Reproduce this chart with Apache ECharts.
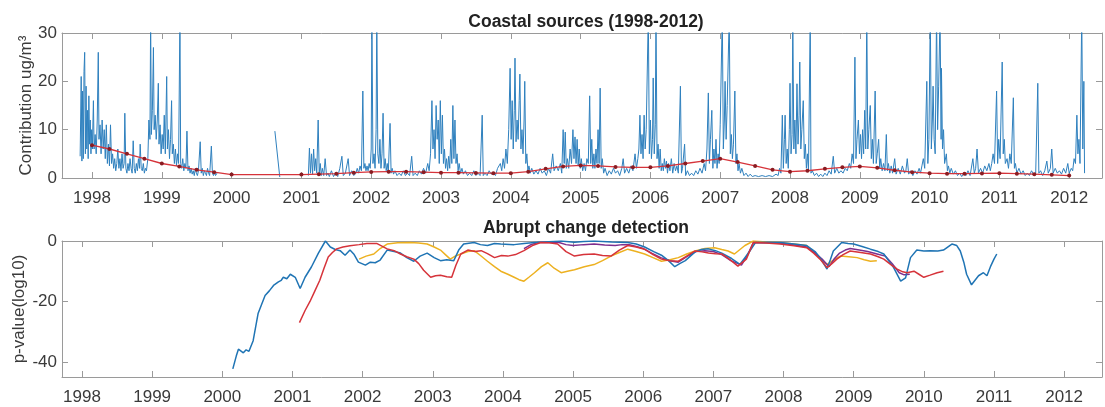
<!DOCTYPE html>
<html>
<head>
<meta charset="utf-8">
<script src="https://cdn.jsdelivr.net/npm/echarts@6/dist/echarts.min.js"></script>
<style>html,body{margin:0;padding:0;background:#fff}#c{width:1105px;height:407px}</style>
</head>
<body>
<div id="c"></div>
<script>
const yearTicks = [1998,1999,2000,2001,2002,2003,2004,2005,2006,2007,2008,2009,2010,2011,2012];
const topYTicks = [0,10,20,30];
const bottomYTicks = [-40,-20,0];

// Coastal source contribution (ug/m3), [decimal year, value]; null = missing
const coastal = [
[1997.83,4.5],[1997.845,21],[1997.855,3.5],[1997.865,18],[1997.875,4],[1997.885,22],[1997.895,26],[1997.905,5],[1997.915,19],[1997.925,6],[1997.935,14],[1997.945,4],[1997.955,17],[1997.965,7],[1997.975,12],[1997.985,5],[1997.995,10],[1998.005,6],[1998.02,16],[1998.03,6],[1998.045,9],[1998.06,5],[1998.075,12],[1998.09,26],[1998.10,8],[1998.115,11],[1998.13,5],[1998.145,12],[1998.16,6],[1998.175,10],[1998.19,4],[1998.205,11],[1998.22,3],[1998.235,7],[1998.25,2.5],[1998.265,11],[1998.28,3],[1998.295,5],[1998.31,2],[1998.325,4],[1998.34,1.5],[1998.355,3],[1998.37,6],[1998.385,2],[1998.40,4],[1998.415,1.5],[1998.43,5],[1998.445,2],[1998.46,3],[1998.47,13.4],[1998.485,2],[1998.50,1],[1998.515,3],[1998.53,1.5],[1998.545,4],[1998.56,2],[1998.575,1],[1998.59,7.7],[1998.605,2],[1998.62,1],[1998.635,3],[1998.65,1.5],[1998.665,4],[1998.68,2],[1998.69,7],[1998.705,2],[1998.72,1.5],[1998.735,3],[1998.75,1],[1998.765,2],[1998.78,1.5],[1998.80,4],[1998.815,12],[1998.83,8],[1998.84,34],[1998.85,9],[1998.865,14],[1998.88,27],[1998.89,10],[1998.905,13],[1998.92,8],[1998.935,12],[1998.95,19.6],[1998.96,7],[1998.975,11],[1998.99,5],[1999.005,9],[1999.02,6],[1999.035,13],[1999.05,5],[1999.07,21],[1999.08,6],[1999.095,10],[1999.11,4],[1999.125,8],[1999.14,16],[1999.15,5],[1999.165,7],[1999.18,3],[1999.195,6],[1999.21,2.5],[1999.225,5],[1999.24,3],[1999.26,34],[1999.27,3],[1999.285,2],[1999.30,4],[1999.315,1.5],[1999.33,3],[1999.345,2],[1999.36,9.7],[1999.375,1.5],[1999.39,2.5],[1999.405,1],[1999.42,2],[1999.435,0.8],[1999.45,1.5],[1999.465,0.5],[1999.48,2],[1999.495,1],[1999.51,0.5],[1999.525,1.5],[1999.55,7.5],[1999.565,1],[1999.58,2],[1999.595,0.5],[1999.61,1.5],[1999.625,1],[1999.64,0.5],[1999.655,2],[1999.67,1],[1999.685,0.5],[1999.71,6.6],[1999.725,1],[1999.74,0.5],[1999.755,1.2],[1999.77,0.5],[1999.79,1],
[1999.8,null],
[2000.62,9.7],[2000.69,0.2],
[2000.7,null],
[2001.10,0.5],[2001.115,6.2],[2001.13,1],[2001.145,5],[2001.16,0.8],[2001.175,6],[2001.19,1.5],[2001.205,4],[2001.22,1],[2001.24,12],[2001.255,1],[2001.27,3],[2001.285,0.5],[2001.30,2],[2001.32,0.5],[2001.34,4],[2001.36,0.5],[2001.38,1],[2001.40,0.3],[2001.43,1.5],[2001.46,0.3],[2001.49,1],[2001.52,0.3],[2001.55,2],[2001.58,4.5],[2001.60,0.5],[2001.63,1],[2001.67,4],[2001.69,0.5],[2001.72,1.5],[2001.75,0.5],[2001.78,1],[2001.80,2],[2001.82,1],[2001.84,2.5],[2001.86,1.5],[2001.88,18],[2001.895,2],[2001.91,3],[2001.925,1.5],[2001.94,2.5],[2001.955,1.5],[2001.97,3],[2001.985,2],[2002.00,6],[2002.01,34],[2002.025,3],[2002.04,5],[2002.055,2],[2002.07,10],[2002.08,34],[2002.095,5],[2002.11,3],[2002.125,8],[2002.14,2],[2002.155,5],[2002.17,13.4],[2002.185,2],[2002.20,4],[2002.215,1.5],[2002.23,3],[2002.245,1],[2002.27,11.3],[2002.285,1],[2002.30,2],[2002.32,0.8],[2002.34,1.5],[2002.37,0.5],[2002.40,1],[2002.43,0.5],[2002.46,1.5],[2002.49,0.5],[2002.52,1],[2002.55,0.5],[2002.58,4.5],[2002.60,0.5],[2002.63,1],[2002.66,0.5],[2002.69,1.5],[2002.72,0.8],[2002.75,2],[2002.78,1],[2002.81,3],[2002.83,1.5],[2002.85,5],[2002.87,16],[2002.885,6],[2002.90,10],[2002.915,4],[2002.93,15],[2002.945,8],[2002.96,12],[2002.975,3],[2002.99,16],[2003.005,5],[2003.02,13],[2003.035,3],[2003.05,6],[2003.065,2],[2003.08,4],[2003.095,1.5],[2003.11,4.5],[2003.125,2],[2003.14,8],[2003.155,3],[2003.17,15],[2003.185,4],[2003.20,12],[2003.215,3],[2003.23,5],[2003.245,1.5],[2003.26,3],[2003.28,1],[2003.30,2],[2003.32,0.8],[2003.35,1.5],[2003.38,0.5],[2003.41,1],[2003.44,0.5],[2003.47,1.5],[2003.50,0.5],[2003.53,1],[2003.56,0.5],[2003.59,13],[2003.605,0.5],[2003.63,1],[2003.66,0.5],[2003.69,1.5],[2003.72,0.8],[2003.75,1],[2003.78,0.5],[2003.81,2],[2003.85,3],[2003.87,1.5],[2003.89,4],[2003.91,2],[2003.93,6],[2003.95,3],[2003.97,10],[2003.99,22.7],[2004.005,8],[2004.02,16],[2004.035,6],[2004.05,14],[2004.06,24.8],[2004.075,7.5],[2004.09,12],[2004.105,8],[2004.12,16],[2004.13,21.5],[2004.145,6],[2004.16,10],[2004.175,5],[2004.19,12],[2004.20,20],[2004.215,3],[2004.23,5],[2004.245,1.5],[2004.26,2.5],[2004.28,1],[2004.30,2],[2004.33,0.8],[2004.36,1.5],[2004.39,0.8],[2004.42,2],[2004.45,1],[2004.48,1.5],[2004.51,0.5],[2004.54,2],[2004.57,1],[2004.60,5],[2004.62,1.5],[2004.65,2.5],[2004.68,1.5],[2004.71,3],[2004.73,1],[2004.75,10],[2004.765,3],[2004.78,9.5],[2004.795,2],[2004.81,4],[2004.83,2],[2004.85,6],[2004.87,3],[2004.89,10],[2004.905,4],[2004.92,8.5],[2004.935,3],[2004.95,8],[2004.965,2.5],[2004.98,6],[2004.995,2],[2005.01,4],[2005.03,1.5],[2005.05,3],[2005.07,1.5],[2005.09,4],[2005.11,3],[2005.13,17],[2005.145,3],[2005.16,8],[2005.175,2],[2005.19,5],[2005.205,2],[2005.22,6],[2005.235,3],[2005.25,10],[2005.265,3],[2005.28,18.6],[2005.295,2],[2005.31,4],[2005.33,1],[2005.35,2],[2005.38,0.5],[2005.41,1.5],[2005.44,0.8],[2005.47,2],[2005.50,1],[2005.53,1.5],[2005.56,0.5],[2005.59,2],[2005.61,4],[2005.63,1],[2005.66,2],[2005.69,1],[2005.72,2.5],[2005.75,1.5],[2005.78,5],[2005.80,2],[2005.82,4],[2005.835,6],[2005.85,13],[2005.865,5],[2005.88,9],[2005.895,4],[2005.91,13],[2005.925,6],[2005.94,10],[2005.97,34],[2005.985,5],[2006.00,12],[2006.015,4],[2006.03,8],[2006.04,20.7],[2006.055,5],[2006.07,11],[2006.08,34],[2006.095,4],[2006.11,7],[2006.125,2],[2006.14,6],[2006.155,1.5],[2006.17,3],[2006.185,1.5],[2006.20,4],[2006.215,2],[2006.23,3.5],[2006.245,1],[2006.26,3],[2006.28,1.5],[2006.30,4],[2006.32,1],[2006.34,3],[2006.36,1.5],[2006.38,2.5],[2006.40,1],[2006.43,19],[2006.445,1],[2006.46,2],[2006.49,7],[2006.505,0.5],[2006.53,1.5],[2006.56,0.5],[2006.59,1],[2006.62,0.5],[2006.65,1.5],[2006.68,0.8],[2006.71,2],[2006.74,1],[2006.77,3],[2006.79,1.5],[2006.81,6],[2006.83,17.6],[2006.845,3],[2006.86,8],[2006.88,14],[2006.895,2],[2006.91,6],[2006.925,3],[2006.94,8],[2006.955,2],[2006.97,5],[2006.985,3],[2007.00,11],[2007.03,34],[2007.045,6],[2007.06,12],[2007.07,20],[2007.085,8],[2007.10,15],[2007.13,34],[2007.145,5],[2007.16,9],[2007.175,4],[2007.19,7],[2007.21,18],[2007.225,3],[2007.24,5],[2007.255,1.5],[2007.27,3],[2007.29,1],[2007.31,2],[2007.34,0.5],[2007.37,1],[2007.40,0.3],[2007.43,0.8],[2007.46,0.3],[2007.50,0.5],[2007.55,0.3],[2007.60,0.5],[2007.65,0.3],[2007.70,0.5],[2007.75,0.3],[2007.80,0.8],[2007.83,0.5],[2007.85,2],[2007.87,1],[2007.89,13],[2007.905,2],[2007.92,8],[2007.93,13],[2007.945,3],[2007.96,6],[2007.975,2],[2007.99,10],[2008.00,19.6],[2008.015,5],[2008.03,9],[2008.04,34],[2008.055,6],[2008.07,12],[2008.085,5],[2008.10,19.5],[2008.115,7],[2008.13,13],[2008.14,24],[2008.155,6],[2008.17,10],[2008.19,16],[2008.205,4],[2008.22,7],[2008.235,2],[2008.25,5],[2008.265,1.5],[2008.29,34],[2008.30,1],[2008.32,1.5],[2008.35,0.5],[2008.38,1],[2008.41,0.3],[2008.44,0.8],[2008.47,0.3],[2008.50,1],[2008.53,0.5],[2008.56,1.5],[2008.59,0.8],[2008.62,4.5],[2008.64,1],[2008.67,2],[2008.70,1],[2008.73,1.5],[2008.76,1],[2008.79,2],[2008.82,1.5],[2008.85,3],[2008.87,2],[2008.89,5],[2008.91,3],[2008.93,25],[2008.945,4],[2008.96,8],[2008.98,12],[2008.995,5],[2009.01,9],[2009.025,4],[2009.04,10],[2009.055,5],[2009.07,14],[2009.085,6],[2009.10,34],[2009.115,6],[2009.13,10],[2009.15,15],[2009.165,4],[2009.18,8],[2009.195,3],[2009.22,18],[2009.235,3],[2009.25,5],[2009.27,8],[2009.285,2],[2009.30,4],[2009.32,1.5],[2009.34,3],[2009.36,1.5],[2009.38,9],[2009.395,1.5],[2009.41,3],[2009.43,1],[2009.45,2.5],[2009.47,1],[2009.50,4],[2009.52,0.8],[2009.55,2],[2009.58,0.8],[2009.61,2.5],[2009.64,1],[2009.66,1.5],[2009.68,4],[2009.70,0.8],[2009.73,1.5],[2009.76,0.5],[2009.79,1.5],[2009.82,0.8],[2009.85,2],[2009.87,1],[2009.89,2.5],[2009.91,4],[2009.93,2],[2009.96,20],[2009.975,3],[2009.99,8],[2010.01,34],[2010.025,6],[2010.04,12],[2010.05,19],[2010.065,8],[2010.08,5],[2010.10,34],[2010.115,10],[2010.13,19],[2010.15,34],[2010.165,8],[2010.17,22.7],[2010.185,6],[2010.20,10],[2010.215,3],[2010.24,5],[2010.255,1.5],[2010.27,2.5],[2010.29,1],[2010.31,2],[2010.34,0.8],[2010.37,1.5],[2010.40,0.5],[2010.43,1],[2010.46,0.3],[2010.49,1],[2010.52,0.5],[2010.55,1.5],[2010.58,0.5],[2010.62,4],[2010.64,1],[2010.66,2],[2010.68,6],[2010.70,1],[2010.73,2],[2010.76,1],[2010.79,2.5],[2010.82,1.5],[2010.85,3],[2010.87,1.5],[2010.89,3],[2010.91,5],[2010.93,3],[2010.96,18],[2010.975,3],[2010.99,8],[2011.01,4],[2011.04,24],[2011.055,5],[2011.07,8],[2011.085,3],[2011.11,4],[2011.13,2],[2011.15,5],[2011.17,3],[2011.20,16.6],[2011.215,2],[2011.23,3],[2011.25,1],[2011.28,2],[2011.31,0.8],[2011.34,1.5],[2011.37,0.5],[2011.40,1],[2011.43,0.5],[2011.46,1.5],[2011.49,0.8],[2011.52,1],[2011.55,19.6],[2011.565,1],[2011.59,1.5],[2011.62,0.5],[2011.65,1.5],[2011.68,3.5],[2011.70,1],[2011.73,2],[2011.75,6],[2011.77,1],[2011.80,2],[2011.83,1],[2011.86,1.5],[2011.89,0.8],[2011.92,2],[2011.95,1],[2011.98,3],[2012.00,1],[2012.03,2],[2012.05,1.5],[2012.07,4],[2012.09,3],[2012.11,13],[2012.125,5],[2012.14,8],[2012.155,3],[2012.18,34],[2012.195,6],[2012.21,20],[2012.22,1]
];

// Smoothed trend of the contribution
const trend = [
[1998.0,6.8],[1998.25,6.0],[1998.5,5.0],[1998.75,4.0],[1999.0,3.0],[1999.25,2.4],[1999.5,1.7],[1999.75,1.2],[2000.0,0.7],[2001.0,0.7],[2001.25,0.8],[2001.5,0.9],[2001.75,1.1],[2002.0,1.25],[2002.25,1.3],[2002.5,1.3],[2002.75,1.2],[2003.0,1.1],[2003.25,1.1],[2003.5,1.05],[2003.75,1.0],[2004.0,1.0],[2004.25,1.3],[2004.5,1.9],[2004.75,2.4],[2005.0,2.6],[2005.25,2.5],[2005.5,2.3],[2005.75,2.2],[2006.0,2.2],[2006.25,2.5],[2006.5,3.0],[2006.75,3.5],[2007.0,4.0],[2007.25,3.3],[2007.5,2.5],[2007.75,1.7],[2008.0,1.3],[2008.25,1.5],[2008.5,1.9],[2008.75,2.2],[2009.0,2.4],[2009.25,2.1],[2009.5,1.6],[2009.75,1.2],[2010.0,1.0],[2010.25,0.9],[2010.5,0.9],[2010.75,0.95],[2011.0,1.0],[2011.25,0.9],[2011.5,0.8],[2011.75,0.65],[2012.0,0.5]
];

// Abrupt change detection p-values (log10)
const pBlue = [
[2000.15,-42.3],[2000.2,-38],[2000.23,-35.8],[2000.3,-37],[2000.34,-36],[2000.38,-36.5],[2000.44,-33],[2000.51,-24],[2000.56,-21],[2000.61,-18],[2000.67,-16.5],[2000.73,-14.7],[2000.8,-13.5],[2000.84,-13],[2000.87,-12],[2000.92,-12.5],[2000.97,-11],[2001.04,-12],[2001.11,-15.7],[2001.18,-12],[2001.27,-8.6],[2001.37,-4],[2001.47,0],[2001.54,-2],[2001.61,-2.8],[2001.68,-3.2],[2001.75,-4.7],[2001.82,-3],[2001.88,-4.5],[2001.94,-7],[2002.04,-8],[2002.11,-7],[2002.18,-7.2],[2002.25,-6.3],[2002.35,-3],[2002.45,-3.5],[2002.54,-4],[2002.63,-5.5],[2002.73,-6.7],[2002.82,-5],[2002.92,-4],[2003.02,-5.5],[2003.11,-6.5],[2003.2,-6.2],[2003.3,-6.5],[2003.37,-3],[2003.44,-1],[2003.59,-0.5],[2003.68,-1.2],[2003.78,-1.5],[2003.88,-0.8],[2003.97,-1],[2004.16,-1.2],[2004.3,-0.8],[2004.45,-0.5],[2004.6,-0.3],[2004.83,0],[2005.02,-0.4],[2005.15,-0.2],[2005.3,0],[2005.55,-0.3],[2005.78,-0.5],[2005.9,-1],[2006.02,-2],[2006.15,-3.5],[2006.26,-4.7],[2006.36,-6.5],[2006.45,-8.5],[2006.52,-7.5],[2006.6,-6.5],[2006.74,-3.6],[2006.83,-2.8],[2006.93,-2.6],[2007.03,-3.2],[2007.12,-4],[2007.26,-5.8],[2007.38,-7.7],[2007.45,-5.5],[2007.52,-3.3],[2007.6,-0.5],[2007.8,-0.4],[2007.95,-0.5],[2008.15,-1],[2008.33,-1.5],[2008.45,-3.5],[2008.52,-5.5],[2008.62,-9.3],[2008.67,-6],[2008.71,-3.3],[2008.83,-0.5],[2008.92,-0.8],[2009.0,-1],[2009.12,-1.8],[2009.24,-2.7],[2009.35,-3.5],[2009.43,-4.3],[2009.57,-8.8],[2009.67,-13.3],[2009.74,-12.2],[2009.81,-5.5],[2009.9,-3],[2010.0,-3.3],[2010.09,-3.2],[2010.2,-3.3],[2010.28,-3],[2010.4,-1],[2010.47,-1.5],[2010.52,-3.3],[2010.57,-7],[2010.61,-11],[2010.68,-14.5],[2010.73,-13],[2010.78,-11.5],[2010.85,-10.5],[2010.9,-11.5],[2010.95,-8.5],[2011.0,-6],[2011.04,-4.3]
];
const pRed = [
[2001.1,-27],[2001.18,-23],[2001.25,-20],[2001.32,-16.5],[2001.39,-13],[2001.45,-9],[2001.51,-5.3],[2001.57,-3.8],[2001.63,-2.6],[2001.72,-2],[2001.82,-1.6],[2001.95,-1.2],[2002.06,-0.8],[2002.2,-0.8],[2002.35,-2.6],[2002.45,-3.2],[2002.54,-4.3],[2002.63,-5.2],[2002.73,-6],[2002.8,-7.5],[2002.87,-9.7],[2002.97,-12],[2003.04,-11.5],[2003.11,-11.3],[2003.2,-11.8],[2003.27,-12],[2003.33,-8],[2003.4,-4.3],[2003.5,-3],[2003.6,-3.5],[2003.69,-3.2],[2003.78,-4.2],[2003.88,-5.5],[2003.98,-4.8],[2004.07,-5],[2004.18,-4.5],[2004.3,-3.2],[2004.42,-1.5],[2004.54,-0.5],[2004.66,-0.6],[2004.78,-1],[2004.9,-3.5],[2005.02,-5],[2005.15,-4.5],[2005.3,-4.3],[2005.42,-4.8],[2005.54,-5],[2005.66,-3],[2005.78,-1.5],[2005.9,-2],[2006.02,-2.7],[2006.14,-4.5],[2006.26,-6],[2006.38,-6.5],[2006.5,-6.7],[2006.62,-5],[2006.74,-3.3],[2006.84,-3.6],[2006.93,-4],[2007.03,-4.2],[2007.12,-4.3],[2007.2,-5.5],[2007.28,-7],[2007.35,-8.3],[2007.47,-6],[2007.57,-0.5],[2007.75,-0.7],[2007.95,-1],[2008.15,-1.6],[2008.33,-2.2],[2008.43,-4],[2008.52,-6],[2008.62,-8.8],[2008.69,-7.5],[2008.76,-6],[2008.85,-4.5],[2008.95,-3.3],[2009.1,-3.8],[2009.24,-4.3],[2009.35,-5.2],[2009.43,-6],[2009.53,-7.8],[2009.62,-9.3],[2009.7,-10.2],[2009.76,-10.5],[2009.86,-10],[2009.93,-11],[2010.0,-12],[2010.09,-11.3],[2010.19,-10.5],[2010.28,-10]
];
const pYellow = [
[2001.95,-6],[2002.05,-5],[2002.16,-4.3],[2002.25,-2.5],[2002.35,-1],[2002.5,-0.6],[2002.68,-0.5],[2002.8,-0.7],[2002.92,-1],[2003.02,-2],[2003.11,-3],[2003.18,-4.5],[2003.25,-6],[2003.32,-5],[2003.4,-4.3],[2003.5,-3.5],[2003.59,-3.2],[2003.68,-4.8],[2003.78,-6.7],[2003.88,-8.5],[2003.97,-10],[2004.07,-11],[2004.16,-12],[2004.23,-12.8],[2004.3,-13.3],[2004.37,-12],[2004.45,-10.5],[2004.55,-8.5],[2004.64,-7.2],[2004.73,-9],[2004.83,-10.5],[2004.92,-10],[2005.02,-9.5],[2005.16,-8.5],[2005.3,-7.8],[2005.42,-6.5],[2005.54,-5],[2005.66,-3.8],[2005.78,-2.7],[2005.9,-3.5],[2006.02,-4.3],[2006.14,-5.5],[2006.26,-6.7],[2006.38,-6.2],[2006.5,-5.5],[2006.62,-4.3],[2006.74,-3.3],[2006.88,-2.5],[2007.02,-2.2],[2007.12,-2.8],[2007.21,-3.3],[2007.3,-4.3],[2007.45,-1.5],[2007.57,0],[2007.75,-0.3],[2007.95,-0.5],[2008.15,-1],[2008.33,-1.5],[2008.45,-4],[2008.55,-6.5],[2008.62,-7.7],[2008.7,-6.5],[2008.81,-5],[2008.93,-5.2],[2009.05,-5.5],[2009.15,-6.2],[2009.24,-6.7],[2009.33,-6.5]
];
const pPurple = [
[2004.3,-2.5],[2004.4,-1.2],[2004.5,-0.5],[2004.65,-0.4],[2004.8,-0.5],[2004.9,-1.2],[2005.0,-1.5],[2005.15,-1.2],[2005.3,-1],[2005.45,-1.3],[2005.6,-1.5],[2005.7,-1.2],[2005.8,-1.2],[2005.9,-1.8],[2006.0,-2.5],[2006.12,-4],[2006.25,-5.5],[2006.38,-6.5],[2006.5,-7],[2006.62,-5.2],[2006.75,-3.5],[2006.88,-3.2],[2007.0,-3.5],[2007.12,-4.5],[2007.25,-6.5],[2007.4,-8],[2007.48,-5],[2007.57,-0.5],[2007.8,-0.6],[2008.0,-0.8],[2008.17,-1.4],[2008.33,-2],[2008.45,-4],[2008.55,-6],[2008.65,-8.5],[2008.72,-6],[2008.8,-4],[2008.88,-3],[2008.95,-2.5],[2009.08,-3],[2009.2,-3.5],[2009.32,-4.2],[2009.45,-5],[2009.55,-7.5],[2009.65,-10.5],[2009.72,-11.2],[2009.8,-11]
];

const axisGrey = '#9a9a9a';
const labelColor = '#3a3a3a';
const FONT = 'Liberation Sans, Arial, Helvetica, sans-serif';

function xAx(grid, pos, min, max, showLabel) {
  return {
    type: 'value', gridIndex: grid, position: pos, min: min, max: max,
    axisLine: { show: true, onZero: false, lineStyle: { color: axisGrey, width: 1 } },
    axisTick: { show: true, inside: true, length: 6, customValues: yearTicks, lineStyle: { color: axisGrey } },
    axisLabel: { show: showLabel, customValues: yearTicks, fontSize: 17, color: labelColor, fontFamily: FONT, margin: 12, formatter: function (v) { return String(v); } },
    splitLine: { show: false }
  };
}
function yAx(grid, pos, min, max, ticks, showLabel, name, gap) {
  const a = {
    type: 'value', gridIndex: grid, position: pos, min: min, max: max,
    axisLine: { show: true, onZero: false, lineStyle: { color: axisGrey, width: 1 } },
    axisTick: { show: true, inside: true, length: 6, customValues: ticks, lineStyle: { color: axisGrey } },
    axisLabel: { show: showLabel, customValues: ticks, fontSize: 17, color: labelColor, fontFamily: FONT, margin: 5 },
    splitLine: { show: false }
  };
  if (name) {
    a.name = name;
    a.nameLocation = 'middle';
    a.nameGap = gap;
    a.nameRotate = 90;
    a.nameMoveOverlap = false;
    a.nameTextStyle = { fontSize: 17, color: labelColor, fontFamily: FONT };
  }
  return a;
}

const chart = echarts.init(document.getElementById('c'), null, { renderer: 'canvas' });
chart.setOption({
  animation: false,
  backgroundColor: '#ffffff',
  grid: [
    { left: 62, right: 3, top: 33, height: 145 },
    { left: 62, right: 3, top: 241, height: 136 }
  ],
  xAxis: [
    xAx(0, 'bottom', 1997.57, 2012.47, true),
    xAx(0, 'top', 1997.57, 2012.47, false),
    xAx(1, 'bottom', 1997.715, 2012.54, true),
    xAx(1, 'top', 1997.715, 2012.54, false)
  ],
  yAxis: [
    yAx(0, 'left', 0, 30, topYTicks, true, 'Contribution ug/m³', 27),
    yAx(0, 'right', 0, 30, topYTicks, false),
    yAx(1, 'left', -45, 0, bottomYTicks, true, 'p-value(log10)', 34),
    yAx(1, 'right', -45, 0, bottomYTicks, false)
  ],
  graphic: [
    { type: 'text', style: { text: 'Coastal sources (1998-2012)', x: 586, y: 22, align: 'center', verticalAlign: 'middle', font: 'bold 17.5px Liberation Sans, Arial, sans-serif', fill: '#222' }, silent: true },
    { type: 'text', style: { text: 'Abrupt change detection', x: 586, y: 228, align: 'center', verticalAlign: 'middle', font: 'bold 17.5px Liberation Sans, Arial, sans-serif', fill: '#222' }, silent: true }
  ],
  series: [
    { type: 'line', xAxisIndex: 0, yAxisIndex: 0, data: coastal, showSymbol: false, connectNulls: false, clip: true,
      lineStyle: { color: '#2f80be', width: 1 }, itemStyle: { color: '#2f80be' } },
    { type: 'line', xAxisIndex: 0, yAxisIndex: 0, data: trend, symbol: 'circle', symbolSize: 4, showSymbol: true,
      lineStyle: { color: '#d6333a', width: 1.3 }, itemStyle: { color: '#8a1c22' } },
    { type: 'line', xAxisIndex: 2, yAxisIndex: 2, data: pYellow, showSymbol: false, lineStyle: { color: '#EDB120', width: 1.5 } },
    { type: 'line', xAxisIndex: 2, yAxisIndex: 2, data: pPurple, showSymbol: false, lineStyle: { color: '#7E2F8E', width: 1.5 } },
    { type: 'line', xAxisIndex: 2, yAxisIndex: 2, data: pBlue, showSymbol: false, lineStyle: { color: '#1f74b4', width: 1.5 } },
    { type: 'line', xAxisIndex: 2, yAxisIndex: 2, data: pRed, showSymbol: false, lineStyle: { color: '#d6333a', width: 1.5 } }
  ]
});
</script>
</body>
</html>
